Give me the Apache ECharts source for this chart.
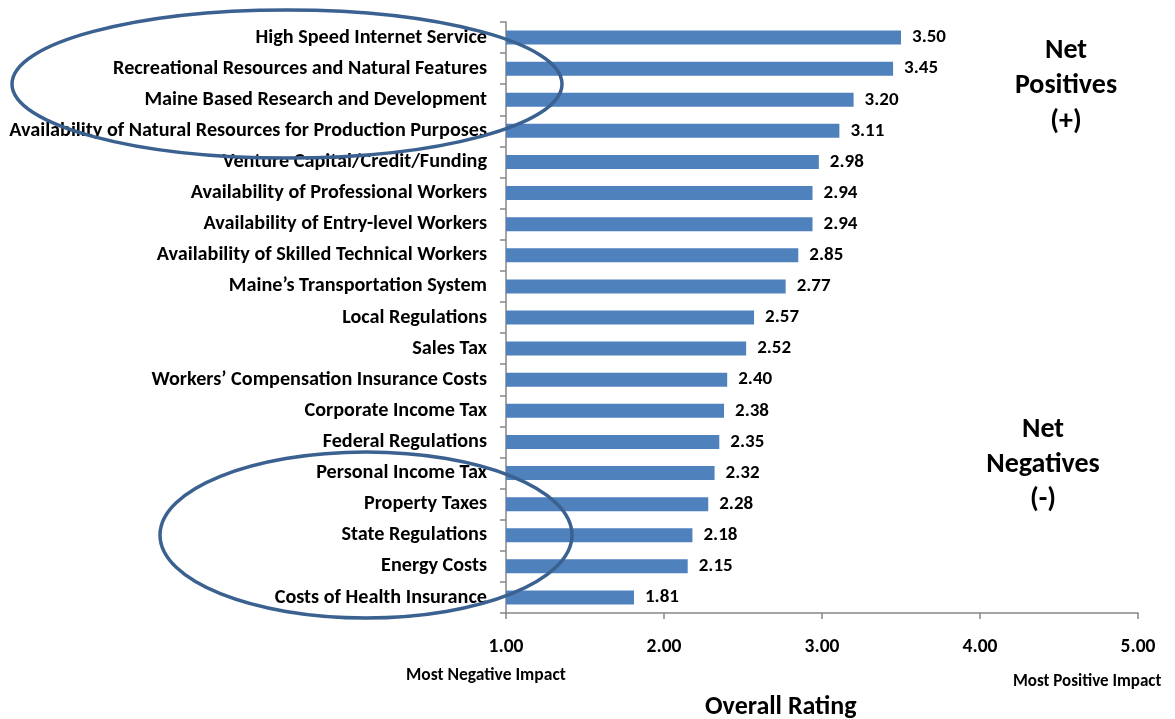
<!DOCTYPE html>
<html><head><meta charset="utf-8">
<script src="https://cdn.jsdelivr.net/npm/echarts@6/dist/echarts.min.js"></script>
<style>html,body{margin:0;padding:0;background:#fff}#c{width:1175px;height:719px}</style>
</head><body><div id="c"></div>
<script>
var categories = ["High Speed Internet Service","Recreational Resources and Natural Features","Maine Based Research and Development","Availability of Natural Resources for Production Purposes","Venture Capital/Credit/Funding","Availability of Professional Workers","Availability of Entry-level Workers","Availability of Skilled Technical Workers","Maine\u2019s Transportation System","Local Regulations","Sales Tax","Workers\u2019 Compensation Insurance Costs","Corporate Income Tax","Federal Regulations","Personal Income Tax","Property Taxes","State Regulations","Energy Costs","Costs of Health Insurance"];
var values = [3.50,3.45,3.20,3.11,2.98,2.94,2.94,2.85,2.77,2.57,2.52,2.40,2.38,2.35,2.32,2.28,2.18,2.15,1.81];
var xTicks = [1,2,3,4,5];
var FONT = "Carlito, 'Liberation Sans Narrow', 'Liberation Sans', sans-serif";
var chart = echarts.init(document.getElementById('c'));
chart.setOption({
  animation:false,
  grid:{left:506,right:37,top:22,bottom:106,containLabel:false},
  xAxis:{type:'value',min:xTicks[0],max:xTicks[xTicks.length-1],interval:1,
    axisLine:{show:true,lineStyle:{color:'#868686',width:1.5}},
    axisTick:{show:true,length:6,lineStyle:{color:'#868686',width:1.5}},
    splitLine:{show:false},
    axisLabel:{margin:24,fontFamily:FONT,fontWeight:'bold',fontSize:19.5,color:'#000',formatter:function(v){return v.toFixed(2);}}
  },
  yAxis:{type:'category',data:categories,inverse:true,
    axisLine:{show:true,lineStyle:{color:'#868686',width:1.5}},
    axisTick:{show:true,length:6,inside:false,lineStyle:{color:'#868686',width:1.5}},
    axisLabel:{margin:19,fontFamily:FONT,fontWeight:'bold',fontSize:20.2,color:'#000'}
  },
  series:[{type:'bar',data:values,barWidth:14,itemStyle:{color:'#4f81bd'},
    label:{show:true,position:'right',distance:11,fontFamily:FONT,fontWeight:'bold',fontSize:19,color:'#000',formatter:function(p){return p.value.toFixed(2);}}
  }],
  graphic:[
    {type:'ellipse',shape:{cx:287,cy:84,rx:275,ry:74},style:{fill:'none',stroke:'#3a6190',lineWidth:3.5},z:100},
    {type:'ellipse',shape:{cx:366,cy:535,rx:206,ry:83},style:{fill:'none',stroke:'#3a6190',lineWidth:3.5},z:100},
    {type:'text',left:1066-80,top:33,style:{text:'Net\nPositives\n(+)',width:160,align:'center',textAlign:'center',lineHeight:35.5,fontFamily:FONT,fontWeight:'bold',fontSize:28,fill:'#000'}},
    {type:'text',left:1043-80,top:412,style:{text:'Net\nNegatives\n(-)',width:160,align:'center',textAlign:'center',lineHeight:35,fontFamily:FONT,fontWeight:'bold',fontSize:28,fill:'#000'}},
    {type:'text',left:406,top:667,style:{text:'Most Negative Impact',fontFamily:FONT,fontWeight:'bold',fontSize:17.5,fill:'#000'}},
    {type:'text',left:1013,top:673,style:{text:'Most Positive Impact',fontFamily:FONT,fontWeight:'bold',fontSize:17,fill:'#000'}},
    {type:'text',left:705,top:694,style:{text:'Overall Rating',fontFamily:FONT,fontWeight:'bold',fontSize:26,fill:'#000'}}
  ]
});
</script></body></html>
